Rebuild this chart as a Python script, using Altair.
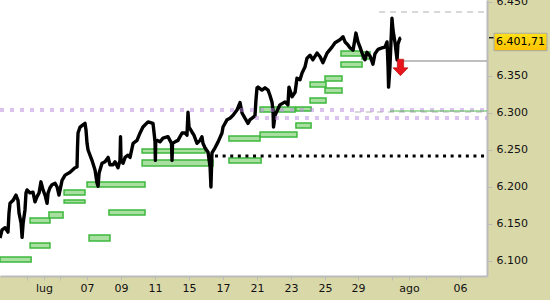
import altair as alt
import pandas as pd

# ---------------- data ----------------
# price series: trading-day index (0 = first session) and index level
day = [-0.12, 0.0, 0.18, 0.35, 0.41, 0.47, 0.65, 0.82, 0.94, 1.0, 1.12, 1.18, 1.24, 1.35, 1.41, 1.47,
       1.65, 1.82, 1.94, 2.06, 2.18, 2.29, 2.41, 2.53, 2.65, 2.71, 2.82, 2.94, 3.12, 3.24, 3.35, 3.53,
       3.71, 4.0, 4.29, 4.41, 4.44, 4.47, 4.59, 4.76, 4.88, 4.94, 5.0, 5.06, 5.29, 5.47, 5.59, 5.65,
       5.71, 5.88, 6.06, 6.24, 6.35, 6.53, 6.65, 6.82, 6.94, 6.97, 7.0, 7.12, 7.24, 7.41, 7.53, 7.71,
       7.94, 8.12, 8.29, 8.59, 8.88, 8.94, 9.0, 9.02, 9.04, 9.12, 9.29, 9.47, 9.76, 9.97, 10.0, 10.03,
       10.18, 10.35, 10.59, 10.76, 10.88, 10.94, 11.0, 11.18, 11.29, 11.47, 11.65, 11.76, 11.82, 11.94,
       12.12, 12.24, 12.29, 12.35, 12.53, 12.71, 12.94, 13.0, 13.24, 13.41, 13.59, 13.82, 14.0, 14.12,
       14.29, 14.47, 14.59, 14.71, 14.88, 14.94, 15.0, 15.06, 15.29, 15.47, 15.65, 15.76, 15.88, 15.94,
       15.97, 16.06, 16.35, 16.65, 16.82, 16.88, 17.06, 17.24, 17.35, 17.53, 17.65, 17.82, 17.94, 18.12,
       18.29, 18.53, 18.71, 18.88, 19.12, 19.41, 19.59, 19.88, 20.06, 20.18, 20.35, 20.47, 20.65, 20.82,
       20.94, 21.06, 21.18, 21.35, 21.47, 21.65, 21.82, 21.94, 22.12, 22.35, 22.53, 22.65, 22.71, 22.74,
       22.82, 22.94, 23.0, 23.12, 23.24, 23.29, 23.41, 23.47]
price = [6131, 6142, 6145, 6139, 6165, 6178, 6182, 6189, 6182, 6165, 6151, 6132, 6151, 6169, 6192, 6196,
         6192, 6193, 6180, 6187, 6192, 6207, 6196, 6189, 6178, 6192, 6199, 6203, 6205, 6200, 6189, 6209,
         6216, 6220, 6226, 6227, 6254, 6273, 6281, 6284, 6286, 6277, 6259, 6250, 6236, 6223, 6205, 6201,
         6219, 6232, 6234, 6240, 6230, 6230, 6234, 6226, 6236, 6268, 6236, 6232, 6240, 6243, 6240, 6259,
         6263, 6273, 6281, 6288, 6286, 6274, 6261, 6236, 6261, 6263, 6261, 6266, 6268, 6259, 6236, 6259,
         6261, 6263, 6273, 6273, 6270, 6301, 6281, 6274, 6270, 6259, 6263, 6268, 6259, 6253,
         6247, 6227, 6200, 6246, 6253, 6261, 6273, 6281, 6291, 6293, 6297, 6304, 6314, 6300,
         6293, 6286, 6291, 6293, 6296, 6318, 6334, 6335, 6331, 6334, 6331, 6324, 6315, 6304,
         6281, 6297, 6311, 6315, 6311, 6335, 6322, 6328, 6347, 6345, 6354, 6362, 6374, 6378,
         6372, 6381, 6376, 6368, 6381, 6389, 6395, 6399, 6403, 6396, 6392, 6388, 6385, 6408,
         6396, 6389, 6381, 6372, 6382, 6377, 6366, 6380, 6386, 6388, 6389, 6396, 6362, 6335,
         6362, 6428, 6412, 6395, 6372, 6393, 6401, 6401.71]

# green level boxes
box_d1 = [-0.12, 1.65, 1.65, 2.76, 3.65, 3.65, 5.0, 5.12, 6.29, 8.24, 8.24, 13.35, 13.35, 15.18,
          15.18, 17.29, 17.29, 18.12, 18.12, 19.0, 19.0, 19.94, 19.94, 21.18]
box_d2 = [1.71, 2.82, 2.82, 3.59, 4.88, 4.88, 8.41, 6.35, 8.41, 12.41, 11.94, 15.18, 15.24, 17.35,
          17.24, 18.18, 18.18, 19.06, 19.06, 20.0, 20.0, 21.18, 21.18, 21.65]
box_top = [6105.4, 6124.3, 6158.1, 6166.2, 6195.9, 6182.4, 6206.8, 6135.1, 6168.9, 6236.5, 6251.4,
           6268.9, 6239.2, 6274.3, 6308.1, 6308.1, 6286.5, 6320.3, 6341.9, 6333.8, 6350.0, 6368.9,
           6383.8, 6382.4]
box_bot = [6098.6, 6117.6, 6151.4, 6158.1, 6189.2, 6178.4, 6200.0, 6127.0, 6162.1, 6228.4, 6245.9,
           6262.2, 6232.4, 6267.6, 6301.4, 6302.7, 6279.7, 6313.5, 6335.1, 6327.0, 6343.2, 6362.2,
           6377.0, 6373.0]

# horizontal levels: start day and level
lvl_purple_hi = (-0.12, 6304.0)
lvl_purple_lo = (14.88, 6293.2)
lvl_black_dot = (12.53, 6241.9)
lvl_gray_solid = (23.29, 6370.3)
lvl_gray_dash_top = (22.18, 6436.5)
lvl_gray_dash_mid = (20.76, 6301.4)
lvl_green = (22.82, 6302.7)

arrow_d, arrow_p = 23.44, 6361.5
last_price = 6401.71
last_label = "6.401,71"

tick_pos = [1.47, 2.47, 3.41, 5, 7, 9, 11, 13, 15, 17, 19, 20.94, 22.94, 23.94, 24.94, 26.94]
tick_txt = ['', 'lug', '', '07', '09', '11', '15', '17', '21', '23', '25', '29', '', 'ago', '', '06']
y_ticks = [6100, 6150, 6200, 6250, 6300, 6350, 6450]

X_MIN, X_MAX = -0.12, 28.53
Y_MIN, Y_MAX = 6079.7, 6452.7

# ---------------- chart ----------------
FONT = "DejaVu Sans"
xs = alt.Scale(domain=[X_MIN, X_MAX], nice=False, zero=False)
ys = alt.Scale(domain=[Y_MIN, Y_MAX], nice=False, zero=False)

lab_expr = ("[" + ",".join("'" + t + "'" for t in tick_txt) + "][indexof(["
            + ",".join(str(v) for v in tick_pos) + "], datum.value)]")
xaxis = alt.Axis(values=tick_pos, labelExpr=lab_expr, title=None, grid=False,
                 domainColor="#BBBBBB", domainWidth=2, tickColor="#BBBBBB", tickSize=4,
                 labelFont=FONT, labelFontSize=11, labelColor="#111111", labelPadding=2,
                 labelOverlap=False, labelFlush=False, labelBound=False)
yaxis = alt.Axis(orient="right", values=y_ticks,
                 labelExpr="replace(format(datum.value, ',d'), ',', '.')", title=None, grid=False,
                 domainColor="#BBBBBB", domainWidth=2, tickColor="#BBBBBB", tickSize=5,
                 labelFont=FONT, labelFontSize=11, labelColor="#111111", labelPadding=4,
                 labelOverlap=False, labelFlush=False, labelBound=False)


def X(f):
    return alt.X(f, type="quantitative", scale=xs, axis=xaxis)


def Y(f):
    return alt.Y(f, type="quantitative", scale=ys, axis=yaxis)


price_df = pd.DataFrame({"i": list(range(len(day))), "d": day, "p": price})
box_df = pd.DataFrame({"d1": box_d1, "d2": box_d2, "t": box_top, "b": box_bot})

boxes = alt.Chart(box_df).mark_rect(fill="#AADFA2", stroke="#3DB83D", strokeWidth=1.5).encode(
    x=X("d1"), x2="d2", y=Y("t"), y2="b")


def hline(lvl, **style):
    df = pd.DataFrame({"d1": [lvl[0]], "d2": [X_MAX], "p": [lvl[1]]})
    return alt.Chart(df).mark_rule(**style).encode(x=X("d1"), x2="d2", y=Y("p"))


black_dot = hline(lvl_black_dot, stroke="black", strokeWidth=3, strokeDash=[3, 4.6])
gray_solid = hline(lvl_gray_solid, stroke="#AAAAAA", strokeWidth=1.5)
gray_top = hline(lvl_gray_dash_top, stroke="#CCCCCC", strokeWidth=1.5, strokeDash=[6, 5])
gray_mid = hline(lvl_gray_dash_mid, stroke="#CCCCCC", strokeWidth=1.5, strokeDash=[6, 5])

line = alt.Chart(price_df).mark_line(stroke="black", strokeWidth=3.4, strokeJoin="round").encode(
    x=X("d"), y=Y("p"), order="i:Q")

purple_hi = hline(lvl_purple_hi, stroke="#B988E0", strokeOpacity=0.5, strokeWidth=4,
                  strokeDash=[4, 6])
purple_lo = hline(lvl_purple_lo, stroke="#B988E0", strokeOpacity=0.5, strokeWidth=4,
                  strokeDash=[4, 6])
green = hline(lvl_green, stroke="#55BB55", strokeWidth=1)

arrow_df = pd.DataFrame({"d": [arrow_d], "p": [arrow_p]})
arrow = alt.Chart(arrow_df).mark_point(
    shape="M-0.42,-1.1 L0.42,-1.1 L0.42,0.05 L1,0.05 L0,1.1 L-1,0.05 L-0.42,0.05 Z",
    size=225, filled=True, fill="#E8161C", stroke="#B00000", strokeWidth=0.6, opacity=1
).encode(x=X("d"), y=Y("p"))

last_df = pd.DataFrame({"p": [last_price], "t": [last_label]})
gold = {"gradient": "linear", "x1": 0, "y1": 0, "x2": 0, "y2": 1,
        "stops": [{"offset": 0, "color": "#FFE21A"}, {"offset": 1, "color": "#FFC200"}]}
last_box = alt.Chart(last_df).mark_rect(fill=gold, stroke="#A8A8A8", strokeWidth=1,
                                        yOffset=-4.5, y2Offset=13).encode(
    x=alt.value(494), x2=alt.value(547), y=Y("p"), y2="p")
last_txt = alt.Chart(last_df).mark_text(font=FONT, fontSize=11, color="black", dy=4,
                                        align="center", baseline="middle").encode(
    x=alt.value(520.5), y=Y("p"), text="t:N")
last_tick = alt.Chart(last_df).mark_rule(stroke="black", strokeWidth=1.3).encode(
    x=alt.value(489), x2=alt.value(494), y=Y("p"))

chart = alt.layer(
    boxes, black_dot, gray_top, gray_mid, gray_solid, line, purple_hi, purple_lo, green,
    arrow, last_tick, last_box, last_txt
).properties(
    width=487, height=276,
    autosize=alt.AutoSizeParams(type="none"),
    padding={"left": 0, "top": 0, "right": 63, "bottom": 24},
    background="#D9D8A8",
).configure_view(stroke=None, fill="white")

chart.save("out.html", embed_options={"renderer": "svg", "actions": False})
